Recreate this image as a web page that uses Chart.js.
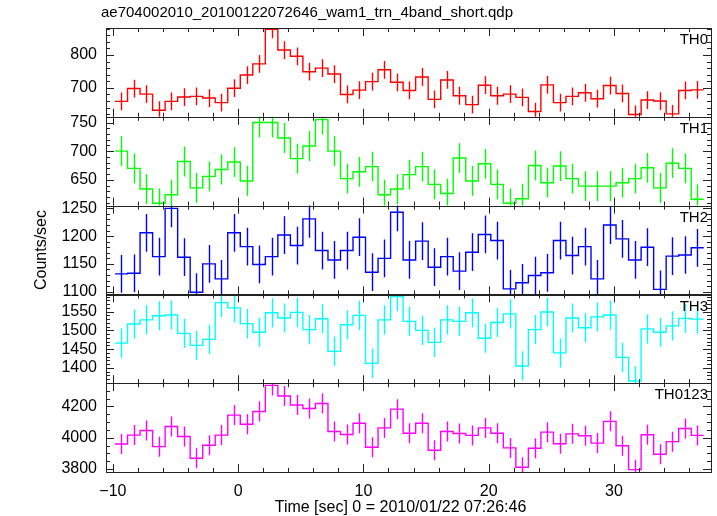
<!DOCTYPE html>
<html lang="en">
<head>
<meta charset="UTF-8">
<title>WAM light curve</title>
<script src="https://cdn.jsdelivr.net/npm/chart.js"></script>
<style>
  html, body { margin: 0; padding: 0; background: #fff; }
</style>
</head>
<body>
<canvas id="lc" width="717" height="516"></canvas>
<script>
// bin centres [sec], 1 s bins
const timeSec = [-9.33, -8.33, -7.33, -6.33, -5.33, -4.33, -3.33, -2.33, -1.33, -0.33,
  0.67, 1.67, 2.67, 3.67, 4.67, 5.67, 6.67, 7.67, 8.67, 9.67,
  10.67, 11.67, 12.67, 13.67, 14.67, 15.67, 16.67, 17.67, 18.67, 19.67,
  20.67, 21.67, 22.67, 23.67, 24.67, 25.67, 26.67, 27.67, 28.67, 29.67,
  30.67, 31.67, 32.67, 33.67, 34.67, 35.67, 36.67];

// counts/sec per band
const th0 = [659, 698, 681, 632, 659, 672, 674, 669, 655, 699, 739, 773, 878, 815, 796, 749, 760, 742, 680, 693,
  719, 755, 717, 692, 733, 665, 724, 676, 649, 708, 676, 681, 671, 628, 709, 655, 674, 685, 667, 707,
  683, 619, 663, 660, 621, 692, 694];
const th1 = [700, 670, 634, 609, 624, 682, 636, 656, 668, 681, 648, 750, 750, 723, 687, 709, 755, 700, 652, 664,
  673, 624, 634, 659, 673, 642, 626, 688, 648, 678, 642, 609, 617, 675, 645, 674, 652, 639, 639, 639,
  645, 652, 671, 636, 679, 670, 616];
const th2 = [1132, 1133, 1206, 1163, 1250, 1162, 1099, 1150, 1123, 1206, 1181, 1149, 1163, 1202, 1183, 1231, 1174, 1157, 1174, 1198,
  1135, 1160, 1243, 1157, 1191, 1144, 1163, 1137, 1171, 1203, 1192, 1105, 1116, 1129, 1134, 1192, 1165, 1181, 1123, 1220,
  1195, 1157, 1180, 1104, 1164, 1166, 1179];
const th3 = [1466, 1517, 1528, 1539, 1541, 1492, 1460, 1476, 1574, 1560, 1518, 1495, 1547, 1533, 1548, 1502, 1531, 1444, 1515, 1540,
  1412, 1528, 1590, 1524, 1500, 1468, 1528, 1524, 1547, 1479, 1521, 1544, 1405, 1502, 1549, 1440, 1533, 1507, 1536, 1541,
  1428, 1365, 1504, 1495, 1512, 1532, 1530];
const th0123 = [3960, 4017, 4046, 3943, 4072, 4008, 3869, 3952, 4017, 4145, 4086, 4168, 4335, 4267, 4210, 4187, 4219, 4040, 4021, 4093,
  3939, 4063, 4183, 4029, 4093, 3920, 4040, 4027, 4015, 4063, 4029, 3935, 3811, 3933, 4036, 3962, 4025, 4013, 3966, 4105,
  3949, 3796, 4019, 3895, 3975, 4059, 4015];

// typical 1-sigma error per band
const bandErr = [27, 26, 34, 39, 64];

const bandNames = ['TH0', 'TH1', 'TH2', 'TH3', 'TH0123'];
const bandValues = [th0, th1, th2, th3, th0123];
const bandColors = ['#ff0000', '#00ff00', '#0000ff', '#00ffff', '#ff00ff'];

// axis ranges and ticks per panel
const yMin = [612, 605, 1095, 1359, 3781];
const yMax = [882, 760, 1255, 1596, 4349];
const yStep = [100, 50, 50, 50, 200];
const yMinor = [20, 10, 10, 10, 50];

const FONT = '"Liberation Sans", Arial, sans-serif';
const binHalf = 0.5;

// step histogram: one point per left bin edge plus the last right edge
function stepPoints(vals) {
  const pts = timeSec.map((t, i) => ({ x: t - binHalf, y: vals[i] }));
  pts.push({ x: timeSec[timeSec.length - 1] + binHalf, y: vals[vals.length - 1] });
  return pts;
}

// labelled ticks inside [lo, hi] at multiples of step
function majorTicks(lo, hi, step) {
  const out = [];
  for (let v = Math.ceil(lo / step) * step; v <= hi; v += step) out.push({ value: v });
  return out;
}

const datasets = bandNames.map((name, k) => ({
  label: name,
  band: k,
  data: stepPoints(bandValues[k]),
  yAxisID: 'y' + k,
  borderColor: bandColors[k],
  borderWidth: 1.4,
  pointRadius: 0,
  fill: false,
  stepped: 'before'
}));

const scales = {
  x: {
    type: 'linear',
    position: 'bottom',
    min: -10.55,
    max: 37.75,
    grid: { display: false, drawTicks: false },
    border: { display: false },
    ticks: {
      color: '#000',
      font: { family: FONT, size: 16 },
      padding: 10,
      callback: v => (v < 0 ? '\u2212' + Math.abs(v) : '' + v)
    },
    afterBuildTicks: s => { s.ticks = majorTicks(-10.55, 37.75, 10); },
    afterFit: s => { s.height = 44; }
  }
};
bandNames.forEach((name, k) => {
  scales['y' + k] = {
    type: 'linear',
    position: 'left',
    stack: 'lc',
    stackWeight: 1,
    weight: 5 - k,
    min: yMin[k],
    max: yMax[k],
    grid: { display: false, drawTicks: false },
    border: { display: false },
    ticks: {
      autoSkip: false,
      color: '#000',
      font: { family: FONT, size: 16 },
      padding: 9,
      callback: v => '' + v
    },
    afterBuildTicks: s => { s.ticks = majorTicks(yMin[k], yMax[k], yStep[k]); },
    afterFit: s => { s.width = 106; }
  };
});

// clip each band to its own panel, add error bars, frames, ticks and texts
const lcPanels = {
  id: 'lcPanels',
  beforeDatasetDraw(chart, args) {
    const ds = chart.data.datasets[args.index];
    const ys = chart.scales[ds.yAxisID];
    const a = chart.chartArea;
    const ctx = chart.ctx;
    ctx.save();
    ctx.beginPath();
    ctx.rect(a.left, ys.top, a.right - a.left, ys.bottom - ys.top);
    ctx.clip();
  },
  afterDatasetDraw(chart, args) {
    const ds = chart.data.datasets[args.index];
    const ys = chart.scales[ds.yAxisID];
    const xs = chart.scales.x;
    const ctx = chart.ctx;
    const vals = bandValues[ds.band];
    const err = bandErr[ds.band];
    ctx.strokeStyle = ds.borderColor;
    ctx.lineWidth = 1.4;
    ctx.beginPath();
    timeSec.forEach((t, i) => {
      const px = Math.round(xs.getPixelForValue(t)) + 0.5;
      ctx.moveTo(px, ys.getPixelForValue(vals[i] - err));
      ctx.lineTo(px, ys.getPixelForValue(vals[i] + err));
    });
    ctx.stroke();
    ctx.restore();
  },
  afterDraw(chart) {
    const ctx = chart.ctx;
    const a = chart.chartArea;
    const xs = chart.scales.x;
    ctx.save();
    ctx.strokeStyle = '#222';
    ctx.lineWidth = 1;
    ctx.fillStyle = '#000';
    ctx.font = '15px ' + FONT;
    bandNames.forEach((name, k) => {
      const ys = chart.scales['y' + k];
      const t = ys.top, b = ys.bottom;
      ctx.strokeRect(a.left + 0.5, Math.round(t) + 0.5, a.right - a.left, Math.round(b - t));
      ctx.beginPath();
      for (let v = Math.ceil(yMin[k] / yMinor[k]) * yMinor[k]; v <= yMax[k]; v += yMinor[k]) {
        const len = v % yStep[k] === 0 ? 8 : 4;
        const py = Math.round(ys.getPixelForValue(v)) + 0.5;
        ctx.moveTo(a.left, py); ctx.lineTo(a.left + len, py);
        ctx.moveTo(a.right, py); ctx.lineTo(a.right - len, py);
      }
      for (let v = -10; v <= 37; v += 2) {
        const len = v % 10 === 0 ? 8 : 4;
        const px = Math.round(xs.getPixelForValue(v)) + 0.5;
        ctx.moveTo(px, t); ctx.lineTo(px, t + len);
        ctx.moveTo(px, b); ctx.lineTo(px, b - len);
      }
      ctx.stroke();
      ctx.textAlign = 'right';
      ctx.textBaseline = 'middle';
      ctx.fillText(name, a.right - 3, t + 12);
    });

    ctx.textAlign = 'left';
    ctx.textBaseline = 'middle';
    ctx.fillText('ae704002010_20100122072646_wam1_trn_4band_short.qdp', a.left - 5, 13);

    ctx.font = '16px ' + FONT;
    ctx.textAlign = 'center';
    ctx.fillText('Time [sec] 0 = 2010/01/22 07:26:46', (a.left + a.right) / 2 - 8, 508);

    ctx.translate(42, (a.top + a.bottom) / 2);
    ctx.rotate(-Math.PI / 2);
    ctx.fillText('Counts/sec', 0, 0);
    ctx.restore();
  }
};

new Chart(document.getElementById('lc'), {
  type: 'line',
  data: { datasets },
  options: {
    responsive: false,
    animation: false,
    layout: { padding: { top: 28, right: 6, left: 0, bottom: 0 } },
    plugins: { legend: { display: false }, tooltip: { enabled: false }, title: { display: false } },
    scales
  },
  plugins: [lcPanels]
});
</script>
</body>
</html>
